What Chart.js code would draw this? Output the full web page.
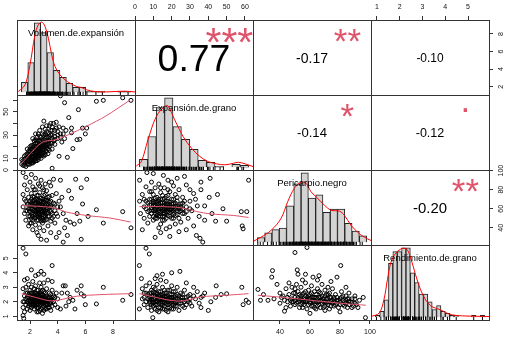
<!DOCTYPE html>
<html>
<head>
<meta charset="utf-8">
<script src="https://cdn.jsdelivr.net/npm/chart.js@4.4.0/dist/chart.umd.min.js"></script>
<style>
  body { margin: 0; background: #fff; }
  #wrap { position: relative; width: 509px; height: 340px; overflow: hidden; }
  #wrap canvas { position: absolute; }
</style>
</head>
<body>
<div id="wrap"></div>
<script>
// ---- variables (diagonal labels) ----
const varNames = ["Volumen.de.expansión", "Expansión.de.grano", "Pericarpio.negro", "Rendimiento.de.grano"];

// ---- axis ranges and tick labels ----
const volRange = [1.06, 9.59];
const expRange = [0, 64.4];
const perRange = [22, 100.7];
const renRange = [0.74, 5.92];
const volTicks = [2, 4, 6, 8];
const expTicks = [0, 10, 20, 30, 40, 50, 60];
const expTopLabels = ["0", "10", "20", "30", "40", "50", "60"];
const expLeftLabels = ["0", "10", "", "30", "", "50", ""];
const perTicks = [40, 60, 80, 100];
const renTicks = [1, 2, 3, 4, 5];

// ---- correlations (upper panels) ----
const corVolExp = ["0.77", "***"];
const corVolPer = ["-0.17", "**"];
const corVolRen = ["-0.10", ""];
const corExpPer = ["-0.14", "*"];
const corExpRen = ["-0.12", "."];
const corPerRen = ["-0.20", "**"];

// ---- histograms: bin centers and counts ----
const volBins = [1.25, 1.75, 2.25, 2.75, 3.25, 3.75, 4.25, 4.75, 5.25, 5.75, 6.25, 6.75, 7.25, 7.75, 8.25, 8.75, 9.25];
const volCounts = [10, 30, 70, 60, 40, 22, 15, 9, 5, 5, 1, 1, 1, 0, 0, 1, 1];
const expBins = [2.5, 7.5, 12.5, 17.5, 22.5, 27.5, 32.5, 37.5, 42.5, 47.5, 52.5, 57.5, 62.5];
const expCounts = [8, 31, 60, 70, 41, 28, 18, 7, 5, 1, 0, 3, 2];
const perBins = [27.5, 32.5, 37.5, 42.5, 47.5, 52.5, 57.5, 62.5, 67.5, 72.5, 77.5, 82.5, 87.5, 92.5, 97.5];
const perCounts = [3, 6, 8, 9, 23, 37, 44, 28, 30, 19, 21, 21, 12, 7, 4];
const renBins = [0.9, 1.1, 1.3, 1.5, 1.7, 1.9, 2.1, 2.3, 2.5, 2.7, 2.9, 3.1, 3.3, 3.5, 3.7, 3.9, 4.1, 4.3, 4.5, 4.7, 4.9, 5.1, 5.3, 5.5, 5.7];
const renCounts = [1, 3, 9, 28, 34, 34, 36, 36, 23, 18, 12, 12, 8, 4, 6, 3, 2, 1, 1, 0, 0, 0, 1, 0, 1];

// ---- density curves (same units as counts) ----
const volDensity = [[0.76,0.7],[1.28,7.4],[1.67,27.6],[2.06,57.9],[2.32,68],[2.58,70.7],[2.84,66.3],[3.10,54.5],[3.36,37.7],[3.62,25.9],[4.01,17.5],[4.40,12.5],[4.78,9.1],[5.30,5.7],[5.69,4.7],[6.08,2.4],[6.73,0.7],[7.51,0.3],[8.29,0.7],[9.06,1.0],[9.84,0.3]];
const expDensity = [[-1.8,1.3],[1.2,5.7],[5.1,27.6],[10.1,51.2],[15.1,61.3],[17.0,61.9],[21.0,47.8],[26.0,31],[31.0,19.2],[36.0,10.8],[40.9,5.7],[45.9,3.4],[50.9,2.4],[55.9,4.0],[58.9,5.0],[62.9,3.4],[67.6,0.7]];
const perDensity = [[21.8,0.4],[27.5,3.2],[34.4,7.5],[41.2,15],[45.8,25.6],[50.4,34.2],[54.9,38],[58.4,37.4],[61.8,32],[66.4,27.8],[71,23.5],[75.5,20.3],[81.3,19.7],[84.7,17.1],[89.3,10.7],[93.8,6.4],[98.4,3.2],[103,1.1]];
const renDensity = [[0.585,0.35],[0.97,2.1],[1.19,9],[1.35,19.4],[1.50,28],[1.73,33.2],[1.96,35.3],[2.11,35.8],[2.26,35],[2.42,30.6],[2.64,22],[2.87,14.2],[3.10,9],[3.33,5.9],[3.56,4.7],[3.79,3.8],[4.02,2.4],[4.32,1.2],[4.78,0.7],[5.39,0.5],[6.0,0.35]];

// ---- scatter panels (x, y) ----
const volExp = [[1.4,5],[1.4,9],[1.5,4],[1.5,8],[1.6,12],[1.6,6],[1.7,3],[1.7,10],[1.8,14],[1.8,7],[1.9,5],[1.9,11],[2.0,9],[2.0,16],[2.0,13],[2.1,6],[2.1,18],[2.1,11],[2.2,14],[2.2,21],[2.2,8],[2.3,12],[2.3,17],[2.3,25],[2.4,10],[2.4,15],[2.4,20],[2.5,13],[2.5,18],[2.5,28],[2.5,23],[2.6,16],[2.6,11],[2.6,21],[2.6,31],[2.7,19],[2.7,14],[2.7,25],[2.7,34],[2.8,17],[2.8,22],[2.8,28],[2.8,12],[2.9,20],[2.9,15],[2.9,26],[2.9,37],[3.0,18],[3.0,23],[3.0,30],[3.0,42],[3.1,21],[3.1,16],[3.1,27],[3.1,35],[3.2,19],[3.2,24],[3.2,33],[3.3,22],[3.3,28],[3.3,14],[3.4,25],[3.4,38],[3.4,20],[3.5,30],[3.5,23],[3.5,40],[3.6,27],[3.6,18],[3.6,34],[3.7,25],[3.7,40],[3.8,29],[3.8,22],[3.9,36],[3.9,41],[4.0,27],[4.0,33],[4.1,37],[4.2,31],[4.3,24],[4.4,36],[4.5,27],[4.6,34],[4.8,45],[5.0,32],[5.0,36],[5.4,26],[4.2,63.7],[4.5,57.8],[5.5,51.8],[6.8,59],[7.3,59.8],[8.7,62],[9.3,59.8],[4.1,11.8],[4.7,10.9],[3.6,1.5],[5.1,18.4],[5.6,26.4],[5.8,36],[6.1,36],[6.0,31],
  [1.6,9],[1.7,7],[1.8,11],[1.9,8],[1.9,14],[2.0,11],[2.0,7],[2.1,14],[2.1,9],[2.2,11],[2.2,17],[2.3,9],[2.3,14],[2.3,20],[2.4,12],[2.4,18],[2.4,23],[2.5,10],[2.5,16],[2.5,20],[2.6,13],[2.6,18],[2.6,25],[2.7,16],[2.7,22],[2.7,29],[2.8,14],[2.8,19],[2.8,25],[2.9,17],[2.9,23],[2.9,31],[3.0,15],[3.0,20],[3.0,26],[3.1,19],[3.1,24],[3.1,31],[3.2,21],[3.2,28],[3.3,18],[3.3,25],[3.3,32],[3.4,22],[3.4,29],[3.5,26],[3.5,34],[3.6,23],[3.6,30],[3.8,26],[3.8,34],[4.0,30],[4.2,28],[2.2,27],[2.4,31],[2.0,20],[1.8,18],[3.2,38],[3.6,37],[4.4,31],
  [1.6,4],[1.7,13],[1.8,5],[1.8,9],[1.9,16],[2.0,5],[2.0,18],[2.1,8],[2.1,21],[2.2,6],[2.2,12],[2.3,7],[2.3,22],[2.4,8],[2.4,13],[2.4,26],[2.5,8],[2.5,15],[2.5,25],[2.6,9],[2.6,19],[2.7,12],[2.7,18],[2.8,10],[2.8,20],[2.9,13],[2.9,18],[3.0,12],[3.0,21],[3.1,13],[3.2,16],[3.4,17]];
const volPer = [[1.5,98],[1.7,93],[2.1,96],[2.4,92],[3.7,91],[4.2,90],[5.3,91],[6.1,91],[5.7,82],[4.8,79],[5.0,71],[5.6,47],[4.9,46],[5.2,44],[6.8,59],[7.3,45],[8.7,57],[9.3,40],[4.7,32],[4.4,25],[5.7,28],[2.8,28],[4.1,35],[3.9,30],[3.2,27],[2.6,32],[3.5,35],[4.5,40],[4.2,62],[4.4,55],[4.6,48],[5.4,55],[5.8,65],[6.2,52],[1.5,75],[1.5,62],[1.6,85],[1.6,55],[1.7,68],[1.7,48],[1.8,80],[1.8,58],[1.9,72],[1.9,42],[2.0,88],[2.0,64],[2.0,52],[2.1,76],[2.1,60],[2.1,45],[2.2,83],[2.2,68],[2.2,56],[2.2,38],[2.3,72],[2.3,62],[2.3,50],[2.4,80],[2.4,66],[2.4,57],[2.4,43],[2.5,74],[2.5,61],[2.5,53],[2.5,35],[2.6,86],[2.6,69],[2.6,58],[2.6,48],[2.7,77],[2.7,64],[2.7,55],[2.7,40],[2.8,71],[2.8,60],[2.8,51],[2.9,82],[2.9,66],[2.9,57],[2.9,45],[3.0,74],[3.0,62],[3.0,53],[3.0,37],[3.1,69],[3.1,58],[3.1,48],[3.2,79],[3.2,64],[3.2,55],[3.3,72],[3.3,60],[3.3,42],[3.4,67],[3.4,52],[3.5,84],[3.5,63],[3.5,57],[3.6,74],[3.6,50],[3.7,66],[3.8,58],[3.8,45],[3.9,76],[4.0,62],[4.0,52],[4.1,68],[4.3,72],[3.4,88],[2.8,90],[3.1,86],
  [1.8,65],[1.9,52],[1.9,60],[2.0,57],[2.0,68],[2.1,50],[2.1,66],[2.2,60],[2.2,48],[2.2,73],[2.3,55],[2.3,66],[2.4,51],[2.4,62],[2.4,70],[2.5,48],[2.5,57],[2.5,66],[2.6,52],[2.6,63],[2.6,74],[2.7,50],[2.7,59],[2.7,68],[2.8,47],[2.8,56],[2.8,65],[2.9,50],[2.9,61],[2.9,70],[3.0,48],[3.0,57],[3.0,67],[3.1,53],[3.1,63],[3.1,75],[3.2,49],[3.2,59],[3.2,69],[3.3,52],[3.3,65],[3.4,58],[3.4,73],[3.5,47],[3.5,68],[3.6,55],[3.6,62],[3.7,52],[3.8,65],[3.9,55],[1.7,58],[1.6,70],[2.0,45],[2.3,80],[2.7,84],[3.0,80],
  [1.9,65],[2.0,60],[2.1,55],[2.1,70],[2.2,64],[2.3,58],[2.3,69],[2.4,54],[2.4,65],[2.5,59],[2.5,70],[2.6,55],[2.6,66],[2.7,53],[2.7,62],[2.8,58],[2.8,68],[2.9,54],[2.9,64],[3.0,59],[3.0,70],[3.1,55],[3.1,65],[3.2,61],[3.3,56],[3.3,68],[3.4,62],[2.2,52],[2.6,60],[2.9,48]];
const volRen = [[1.5,5.7],[1.7,5.3],[3.6,4.5],[2.1,4.2],[1.5,1.05],[1.55,0.85],[9.3,2.5],[8.7,2.1],[7.3,3.0],[6.8,1.85],[6.0,1.8],[5.7,3.1],[5.25,1.5],[5.7,2.55],[4.4,3.1],[4.55,3.1],[4.2,1.5],[4.9,2.3],[4.8,2.0],[5.1,2.1],[5.4,2.8],[4.6,1.7],[5.9,2.4],[4.3,2.6],[4.7,2.6],[2.8,4.1],[2.6,3.9],[3.0,3.9],[2.4,3.8],[1.8,3.6],[1.6,3.5],[1.5,2.9],[1.5,2.0],[1.5,1.6],[1.6,2.4],[1.6,1.3],[1.7,3.0],[1.7,2.2],[1.7,1.8],[1.8,2.6],[1.8,1.5],[1.9,3.2],[1.9,2.1],[1.9,1.7],[2.0,2.8],[2.0,2.4],[2.0,1.4],[2.1,3.0],[2.1,2.0],[2.1,1.6],[2.2,2.6],[2.2,3.4],[2.2,1.9],[2.3,2.3],[2.3,1.5],[2.3,2.9],[2.4,2.1],[2.4,1.7],[2.4,3.1],[2.5,2.5],[2.5,1.9],[2.5,1.3],[2.6,2.2],[2.6,2.8],[2.6,1.6],[2.7,3.3],[2.7,2.0],[2.7,1.4],[2.8,2.5],[2.8,1.8],[2.8,3.0],[2.9,2.2],[2.9,1.6],[2.9,1.2],[3.0,2.7],[3.0,1.9],[3.0,3.3],[3.1,2.1],[3.1,1.5],[3.2,2.4],[3.2,1.8],[3.2,2.9],[3.3,2.0],[3.3,1.6],[3.4,2.6],[3.4,1.9],[3.5,2.2],[3.5,1.4],[3.6,2.8],[3.6,1.7],[3.7,2.0],[3.7,2.4],[3.8,1.8],[3.9,2.6],[4.0,1.6],[4.0,2.2],[3.3,3.5],[3.6,3.4],
  [1.8,2.0],[1.8,2.3],[1.9,1.9],[1.9,2.5],[2.0,1.8],[2.0,2.1],[2.1,2.3],[2.1,1.8],[2.1,2.6],[2.2,2.1],[2.2,1.7],[2.2,2.4],[2.3,2.0],[2.3,2.6],[2.3,1.8],[2.4,2.3],[2.4,1.9],[2.4,2.6],[2.5,2.1],[2.5,1.6],[2.5,2.8],[2.6,2.0],[2.6,2.5],[2.6,1.8],[2.7,2.2],[2.7,1.7],[2.7,2.6],[2.8,2.0],[2.8,2.2],[2.8,1.5],[2.9,1.9],[2.9,2.5],[2.9,2.8],[3.0,2.1],[3.0,1.7],[3.0,2.4],[3.1,1.8],[3.1,2.6],[3.2,2.1],[3.2,1.5],[3.3,2.3],[3.3,1.8],[3.4,2.1],[3.4,1.6],[3.5,1.9],[3.5,2.5],[3.6,2.1],[3.8,2.3],[1.7,2.6],[1.6,2.0],[3.0,1.4],[2.6,1.3],
  [1.9,2.3],[2.0,2.0],[2.0,2.6],[2.1,2.2],[2.2,1.8],[2.2,2.2],[2.3,2.1],[2.3,2.4],[2.4,2.0],[2.4,2.4],[2.5,1.8],[2.5,2.3],[2.6,2.1],[2.6,2.4],[2.7,1.9],[2.7,2.4],[2.8,2.1],[2.8,2.7],[2.9,2.0],[2.9,2.3],[3.0,2.0],[3.0,2.2],[3.1,2.0],[3.1,2.3],[3.2,1.9],[3.2,2.2],[3.3,2.1],[3.4,2.3],[3.5,2.0],[3.6,2.3]];
const expPer = [[62,90],[58,57],[61,57],[58.5,42],[59,39],[50,47],[41,92],[40.5,72],[44,47],[35.5,29],[37,25],[33.5,32],[14,35],[6.5,98],[10,97],[15.5,95],[2.5,90],[27,94],[36,88],[45,75],[48,60],[32,42],[28,38],[24,36],[19,31],[11,30],[4,38],[3,55],[2.5,68],[38,63],[42,55],[30,80],[33,70],[4,75],[5,62],[5,50],[6,83],[6,68],[7,57],[7,45],[8,78],[8,64],[8,52],[9,88],[9,70],[9,59],[10,48],[10,75],[10,63],[11,55],[11,82],[11,67],[12,60],[12,72],[12,50],[13,86],[13,65],[13,56],[14,77],[14,61],[14,44],[15,70],[15,58],[15,52],[16,82],[16,66],[16,48],[17,73],[17,60],[17,55],[18,90],[18,68],[18,53],[19,78],[19,62],[19,41],[20,70],[20,57],[21,84],[21,65],[21,50],[22,75],[22,60],[23,68],[23,54],[24,80],[24,63],[25,58],[25,46],[26,72],[26,66],[27,55],[28,85],[28,62],[29,50],[30,68],[31,58],[32,76],[34,63],[35,52],[36,80],[38,48],[23,92],[20,88],[13,40],[17,39],[22,44],
  [8,58],[8,70],[9,55],[9,64],[10,52],[10,58],[10,68],[11,60],[11,71],[11,50],[12,55],[12,65],[12,67],[13,52],[13,60],[13,70],[14,57],[14,66],[14,52],[15,63],[15,74],[15,48],[16,55],[16,60],[16,71],[17,50],[17,65],[17,68],[18,57],[18,62],[18,74],[19,52],[19,67],[19,56],[20,62],[20,65],[20,50],[21,58],[21,70],[22,53],[22,66],[23,62],[23,72],[24,57],[24,50],[25,65],[26,60],[27,68],[28,57],[30,60],[6,60],[7,66],[5,70],[9,78],[14,82],[18,80],
  [9,61],[10,66],[11,58],[11,64],[12,62],[12,53],[13,58],[13,68],[14,63],[14,55],[15,60],[15,66],[16,58],[16,64],[17,62],[17,57],[18,60],[18,65],[19,59],[19,64],[20,60],[21,62],[21,55],[22,63],[23,58],[24,60],[25,62],[26,55],[14,70],[16,52]];
const expRen = [[6,5.7],[7.8,5.3],[2.4,4.5],[20,4.0],[24.5,4.1],[9.7,0.9],[58.3,3.0],[60.7,2.1],[62,1.95],[59,1.8],[50,2.55],[44.3,3.1],[41.4,2.0],[38,2.6],[36,2.3],[44,2.3],[47,2.5],[2.4,1.5],[3.5,3.6],[12,3.8],[14,3.5],[28,3.3],[32,3.0],[36,1.6],[40,1.4],[4,2.9],[4,2.2],[5,2.6],[5,1.8],[6,3.1],[6,2.0],[7,2.5],[7,1.6],[8,3.3],[8,2.3],[8,1.9],[9,2.8],[9,2.1],[9,1.4],[10,3.0],[10,2.4],[10,1.7],[11,2.6],[11,2.0],[11,1.5],[12,3.2],[12,2.3],[12,1.8],[13,2.7],[13,2.1],[13,1.3],[14,2.4],[14,1.9],[14,1.6],[15,3.0],[15,2.2],[15,1.5],[16,2.6],[16,2.0],[16,1.7],[17,3.4],[17,2.3],[17,1.4],[18,2.8],[18,2.0],[18,1.6],[19,2.5],[19,1.9],[20,3.1],[20,2.2],[20,1.5],[21,2.7],[21,1.8],[22,2.4],[22,2.0],[23,3.0],[23,1.7],[24,2.2],[24,1.4],[25,2.6],[25,1.9],[26,2.1],[27,2.8],[27,1.6],[28,2.3],[29,2.0],[30,2.5],[31,1.7],[33,2.2],[34,2.7],[35,1.9],[37,2.4],[11,3.6],[15,3.9],
  [8,2.1],[8,2.6],[9,1.8],[9,2.4],[10,2.0],[10,2.7],[11,2.2],[11,1.8],[11,2.9],[12,2.0],[12,2.6],[13,1.9],[13,2.4],[13,1.6],[14,2.2],[14,2.7],[15,1.8],[15,2.5],[16,2.2],[16,2.8],[16,1.5],[17,1.9],[17,2.6],[18,2.2],[18,1.8],[19,2.3],[19,1.6],[19,2.8],[20,1.9],[20,2.5],[21,2.1],[21,1.5],[22,2.7],[22,1.7],[23,2.2],[23,2.5],[24,1.9],[25,2.3],[26,1.7],[26,2.5],[27,2.0],[28,1.8],[29,2.4],[30,1.9],[32,2.4],[7,2.2],[6,2.6],[5,2.3],[12,1.4],[18,1.3],
  [8,2.0],[9,2.2],[10,1.9],[10,2.2],[11,2.4],[12,2.1],[12,2.5],[13,2.2],[14,2.0],[14,2.3],[15,2.0],[15,2.3],[16,1.9],[16,2.4],[17,2.1],[17,2.4],[18,2.4],[19,2.1],[20,2.0],[20,2.3],[21,2.3],[22,1.9],[22,2.2],[23,2.0],[24,2.4],[25,2.1],[26,2.3],[28,2.1],[30,2.2],[9,2.6]];
const perRen = [[50,5.4],[58,5.75],[80.5,4.5],[51.5,4.2],[35,4.15],[34.5,3.7],[25.3,2.85],[27,2.1],[97,0.9],[95.5,2.3],[88,1.95],[60,1.2],[70,1.4],[43,1.35],[80,1.3],[84,3.0],[52,3.9],[57,3.9],[62,3.7],[29,2.5],[32,2.1],[36,2.2],[40,2.6],[92,1.6],[93,2.1],[90,2.4],[38,3.2],[66,3.8],[74,3.4],[78,3.7],[86,2.6],[42,2.4],[44,2.9],[45,2.0],[46,2.5],[47,1.7],[48,2.2],[48,3.0],[49,2.6],[50,1.8],[50,2.3],[51,3.2],[52,2.0],[52,2.7],[53,1.6],[54,2.4],[54,3.0],[55,2.1],[56,2.6],[56,1.8],[57,3.3],[58,2.3],[58,1.5],[59,2.8],[60,2.0],[60,2.5],[61,3.1],[62,1.7],[62,2.3],[63,2.7],[64,2.0],[64,1.5],[65,2.9],[66,2.3],[66,1.8],[67,2.6],[68,2.1],[68,3.2],[69,1.6],[70,2.4],[70,2.8],[71,1.9],[72,2.2],[73,2.6],[73,1.5],[74,2.0],[75,2.9],[76,1.7],[76,2.3],[77,2.5],[78,1.9],[79,1.6],[80,2.2],[81,2.7],[82,1.8],[83,2.0],[84,2.4],[85,1.6],[86,2.0],[88,2.2],[89,1.7],[90,1.9],[65,3.5],[55,3.5],[46,3.3],[44,1.6],[40,1.9],[72,3.0],
  [45,2.3],[47,2.1],[49,2.0],[50,2.6],[51,1.9],[52,2.3],[53,2.1],[54,1.8],[55,2.5],[55,1.6],[56,2.2],[57,2.0],[57,2.7],[58,2.1],[59,1.8],[59,2.4],[60,2.2],[61,1.7],[61,2.6],[62,2.0],[63,2.3],[63,1.6],[64,2.5],[65,2.0],[65,1.7],[66,2.7],[67,2.1],[67,1.6],[68,2.4],[69,2.0],[70,1.7],[71,2.2],[72,2.5],[72,1.8],[74,2.3],[74,1.7],[75,2.1],[76,2.0],[77,1.8],[78,2.3],[79,2.1],[80,1.8],[81,2.3],[82,2.1],[83,1.7],[84,1.9],[85,2.2],[86,1.8],[87,2.0],[88,1.6],[90,2.2],[91,1.8],[50,2.9],[53,2.5],[43,2.1],[41,2.3],
  [50,2.1],[52,2.2],[54,2.2],[55,1.9],[56,2.0],[57,2.4],[58,2.0],[59,2.2],[60,1.9],[61,2.3],[62,2.1],[63,2.0],[64,2.3],[65,2.2],[66,2.0],[67,2.3],[68,1.9],[69,2.2],[70,2.0],[71,2.5],[72,2.0],[73,2.3],[75,1.9],[76,2.2],[78,2.1],[80,2.0],[82,2.4],[84,2.1],[86,2.2],[48,2.0]];

// ---- smoothing lines of the lower panels ----
const volExpSmooth = [[1.4,5.6],[2.24,16.9],[2.96,24.3],[3.8,25.8],[4.76,30.2],[6.09,37.6],[7.5,46.5],[9.2,59.8]];
const volPerSmooth = [[1.4,63.4],[2.96,62.3],[3.8,60.7],[4.65,56.5],[6.09,53],[7.77,50.3],[9.27,46.1]];
const volRenSmooth = [[1.4,2.56],[2.72,2.22],[3.44,2.06],[4.0,2.1],[5.37,2.38],[7.05,2.49],[9.3,2.56]];
const expPerSmooth = [[2.4,62.3],[13.7,62.3],[24.6,61.2],[33.7,57.1],[41,54.7],[53.7,53],[62,50.9]];
const expRenSmooth = [[2.4,2.56],[11.9,2.29],[19.1,2.1],[26.4,2.06],[35.5,2.33],[50,2.45],[62,2.56]];
const perRenSmooth = [[25.3,2.45],[42.8,2.29],[64.6,2.06],[82.2,1.88],[97.2,1.76]];

// ---- layout ----
const colX = [17, 135, 253, 371, 489];
const rowY = [20, 95, 170, 245, 320];
const AX = 24;   // room for an axis
const M = 8;     // spare canvas margin so tick labels can overhang
const FONT = '"Liberation Sans", Arial, sans-serif';
const starRed = "#DF536B";
Chart.defaults.font.family = FONT;
const wrap = document.getElementById("wrap");

// box around the panel plus centred texts (ink box centred like R's text())
function decor(texts) {
  return {
    id: "decor",
    afterDatasetsDraw(chart) {
      const { ctx, chartArea: a } = chart;
      const w = a.right - a.left, h = a.bottom - a.top;
      ctx.save();
      ctx.beginPath();
      ctx.rect(a.left, a.top, w + 1, h + 1);
      ctx.clip();
      texts.forEach(t => {
        ctx.font = t.size(ctx, w) + "px " + FONT;
        ctx.fillStyle = t.color || "#000";
        ctx.textAlign = "center";
        ctx.textBaseline = "alphabetic";
        const m = ctx.measureText(t.text);
        const x = a.left + t.fx * w;
        const y = a.top + (1 - t.fy) * h;
        ctx.fillText(t.text, x, y + (m.actualBoundingBoxAscent - m.actualBoundingBoxDescent) / 2);
      });
      ctx.restore();
      ctx.save();
      ctx.strokeStyle = "#333";
      ctx.lineWidth = 1;
      ctx.strokeRect(a.left + 0.5, a.top + 0.5, w, h);
      ctx.restore();
    }
  };
}

function baseSize(ctx, w, txt) {
  ctx.font = "100px " + FONT;
  return 0.75 * w / (ctx.measureText(txt).width / 100);
}

function corTexts(cor) {
  const r = Math.abs(parseFloat(cor[0]));
  const out = [{ text: cor[0], fx: 0.5, fy: 0.5, size: (ctx, w) => baseSize(ctx, w, cor[0]) * (r + 0.3) / 1.3 }];
  if (cor[1]) out.push({ text: cor[1], fx: 0.8, fy: 0.8, color: starRed, size: (ctx, w) => 0.9 * baseSize(ctx, w, cor[0]) });
  return out;
}

function labelText(name) {
  return [{ text: name, fx: 0.5, fy: 0.82, size: () => 9.5 }];
}

// scale: side is "top"/"bottom"/"left"/"right" when the axis is drawn, else null
function scale(range, side, ticks, labels, pad) {
  const s = { type: "linear", min: range[0], max: range[1], offset: false, display: !!side };
  if (!side) return s;
  const vertical = side === "left" || side === "right";
  s.position = side;
  s.border = { display: false };
  s.grid = { drawOnChartArea: false, drawTicks: true, tickLength: 4, tickColor: "#333", lineWidth: 1 };
  s.ticks = {
    autoSkip: false, color: "#111", padding: pad, font: { size: 7, family: FONT },
    minRotation: vertical ? 90 : 0, maxRotation: vertical ? 90 : 0,
    crossAlign: vertical ? "center" : "near",
    callback: (v, i) => labels[i]
  };
  s.afterBuildTicks = sc => { sc.ticks = ticks.map(v => ({ value: v })); };
  s.afterFit = sc => {
    if (vertical) sc.width = AX; else sc.height = AX;
    sc.paddingLeft = sc.paddingRight = sc.paddingTop = sc.paddingBottom = 0;
  };
  return s;
}

function addPanel(row, col, cfg, sides) {
  const w = colX[col + 1] - colX[col], h = rowY[row + 1] - rowY[row];
  const L = sides.left ? AX : 0, T = sides.top ? AX : 0;
  const R = sides.right ? AX : 0, B = sides.bottom ? AX : 0;
  const cv = document.createElement("canvas");
  cv.width = w + 2 * M + 1 + L + R;
  cv.height = h + 2 * M + 1 + T + B;
  cv.style.left = (colX[col] - L - M) + "px";
  cv.style.top = (rowY[row] - T - M) + "px";
  wrap.appendChild(cv);
  cfg.options = Object.assign({
    responsive: false, animation: false, events: [],
    layout: { autoPadding: false, padding: { left: M, top: M, right: M + 1, bottom: M + 1 } },
    plugins: { legend: { display: false }, tooltip: { enabled: false } }
  }, cfg.options);
  new Chart(cv, cfg);
}

function scatterPanel(row, col, pts, smooth, xs, ys, sides) {
  addPanel(row, col, {
    type: "scatter",
    data: { datasets: [
      { data: smooth, showLine: true, borderColor: starRed, borderWidth: 1, pointRadius: 0, tension: 0.3, fill: false },
      { data: pts, pointRadius: 2, pointStyle: "circle", borderColor: "#000", borderWidth: 1, backgroundColor: "rgba(0,0,0,0)" }
    ] },
    options: { scales: { x: xs, y: ys } },
    plugins: [decor([])]
  }, sides);
}

function histPanel(idx, bins, counts, density, rug, xr) {
  const maxC = Math.max(...counts);
  const yMin = -0.04 * maxC, yMax = 1.04 * maxC;
  const rugY = yMin + 0.02 * (yMax - yMin);
  addPanel(idx, idx, {
    type: "bar",
    data: { datasets: [
      { type: "line", data: density, borderColor: "#FF0000", borderWidth: 1, pointRadius: 0, tension: 0.35, fill: false },
      { type: "scatter", data: rug.map(v => ({ x: v, y: rugY })), pointStyle: "line", rotation: 90, pointRadius: 1.7, borderColor: "#000", borderWidth: 1 },
      { type: "bar", data: bins.map((b, i) => ({ x: b, y: counts[i] })), backgroundColor: "#D3D3D3", borderColor: "#222", borderWidth: 1, categoryPercentage: 1, barPercentage: 1 }
    ] },
    options: { scales: { x: scale(xr, null), y: scale([yMin, yMax], null) } },
    plugins: [decor(labelText(varNames[idx]))]
  }, {});
}

function textPanel(row, col, cor, xs, ys, sides) {
  addPanel(row, col, {
    type: "scatter",
    data: { datasets: [{ data: [] }] },
    options: { scales: { x: xs, y: ys } },
    plugins: [decor(corTexts(cor))]
  }, sides);
}

// ---- diagonal ----
histPanel(0, volBins, volCounts, volDensity, volExp.map(p => p[0]), [0.66, 9.84]);
histPanel(1, expBins, expCounts, expDensity, expPer.map(p => p[0]), [-2.6, 67.6]);
histPanel(2, perBins, perCounts, perDensity, perRen.map(p => p[0]), [22, 103]);
histPanel(3, renBins, renCounts, renDensity, volRen.map(p => p[1]), [0.6, 6.0]);

// ---- upper panels ----
textPanel(0, 1, corVolExp, scale(expRange, "top", expTicks, expTopLabels, 4.8), scale(volRange, null), { top: true });
textPanel(0, 2, corVolPer, scale(perRange, null), scale(volRange, null), {});
textPanel(0, 3, corVolRen, scale(renRange, "top", renTicks, renTicks.map(String), 4.8),
  scale(volRange, "right", volTicks, volTicks.map(String), 5.7), { top: true, right: true });
textPanel(1, 2, corExpPer, scale(perRange, null), scale(expRange, null), {});
textPanel(1, 3, corExpRen, scale(renRange, null), scale(expRange, null), {});
textPanel(2, 3, corPerRen, scale(renRange, null),
  scale(perRange, "right", perTicks, perTicks.map(String), 1.9), { right: true });

// ---- lower panels ----
scatterPanel(1, 0, volExp, volExpSmooth, scale(volRange, null),
  scale(expRange, "left", expTicks, expLeftLabels, 3.1), { left: true });
scatterPanel(2, 0, volPer, volPerSmooth, scale(volRange, null), scale(perRange, null), {});
scatterPanel(2, 1, expPer, expPerSmooth, scale(expRange, null), scale(perRange, null), {});
scatterPanel(3, 0, volRen, volRenSmooth, scale(volRange, "bottom", volTicks, volTicks.map(String), 3.8),
  scale(renRange, "left", renTicks, renTicks.map(String), 5), { left: true, bottom: true });
scatterPanel(3, 1, expRen, expRenSmooth, scale(expRange, null), scale(renRange, null), {});
scatterPanel(3, 2, perRen, perRenSmooth, scale(perRange, "bottom", perTicks, perTicks.map(String), 3.8),
  scale(renRange, null), { bottom: true });
</script>
</body>
</html>
